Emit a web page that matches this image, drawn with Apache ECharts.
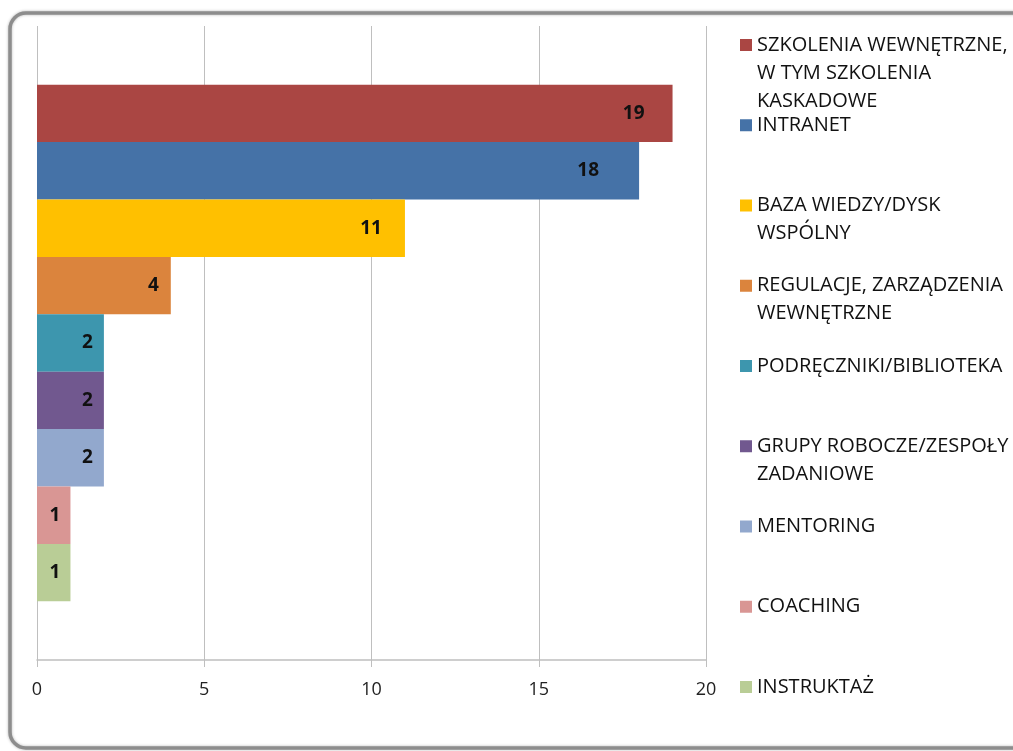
<!DOCTYPE html>
<html>
<head>
<meta charset="utf-8">
<script src="https://cdn.jsdelivr.net/npm/echarts@6/dist/echarts.min.js"></script>
<style>
html,body{margin:0;padding:0;background:#fff;}
#chart{width:1013px;height:751px;}
</style>
</head>
<body>
<div id="chart"></div>
<script>
// ---- data ----
const categories = [
  'SZKOLENIA WEWNĘTRZNE, W TYM SZKOLENIA KASKADOWE',
  'INTRANET',
  'BAZA WIEDZY/DYSK WSPÓLNY',
  'REGULACJE, ZARZĄDZENIA WEWNĘTRZNE',
  'PODRĘCZNIKI/BIBLIOTEKA',
  'GRUPY ROBOCZE/ZESPOŁY ZADANIOWE',
  'MENTORING',
  'COACHING',
  'INSTRUKTAŻ'
];
const values = [19, 18, 11, 4, 2, 2, 2, 1, 1];
const legendLabels = [
  'SZKOLENIA WEWNĘTRZNE,\nW TYM SZKOLENIA\nKASKADOWE',
  'INTRANET',
  'BAZA WIEDZY/DYSK\nWSPÓLNY',
  'REGULACJE, ZARZĄDZENIA\nWEWNĘTRZNE',
  'PODRĘCZNIKI/BIBLIOTEKA',
  'GRUPY ROBOCZE/ZESPOŁY\nZADANIOWE',
  'MENTORING',
  'COACHING',
  'INSTRUKTAŻ'
];
const xMin = 0, xMax = 20, xInterval = 5;

// ---- styles ----
const colors = ['#AA4643', '#4572A7', '#FFC000', '#DB843D', '#3D96AE', '#71588F', '#92A8CD', '#D99694', '#B9CD96'];
const labelInset = [28, 40, 23, 12, 11, 11, 11, 10, 10];
const FONT = 'Open Sans';
const LINE_H = 28;
const LEGEND_FIRST = 45, LEGEND_STEP = 80.25;

const chart = echarts.init(document.getElementById('chart'), null, {renderer: 'canvas'});

const legends = categories.map((name, i) => {
  const lines = legendLabels[i].split('\n');
  const n = lines.length;
  // leading blank lines so the first text line sits level with the icon
  const text = new Array(n - 1).fill(' ').concat(lines).join('\n');
  const c = LEGEND_FIRST + i * LEGEND_STEP;
  return {
    data: [name],
    left: 740,
    top: c - (2 * n - 1) * LINE_H / 2,
    padding: 0,
    icon: 'rect',
    itemWidth: 12,
    itemHeight: 12,
    selectedMode: false,
    formatter: () => text,
    textStyle: {
      fontFamily: FONT, fontSize: 20, color: '#111',
      lineHeight: LINE_H
    }
  };
});

const series = categories.map((name, i) => ({
  type: 'bar',
  name: name,
  data: [values[i]],
  barGap: '0%',
  barCategoryGap: '18.5%',
  itemStyle: {color: colors[i]},
  label: {
    show: true, position: 'insideRight', distance: labelInset[i],
    fontFamily: FONT, fontWeight: 'bold', fontSize: 19, color: '#111'
  }
}));

chart.setOption({
  animation: false,
  backgroundColor: '#fff',
  graphic: [{
    type: 'rect',
    shape: {x: 10, y: 13, width: 1020, height: 735, r: 16},
    style: {fill: 'none', stroke: '#8d8d8d', lineWidth: 3.5, shadowBlur: 3, shadowColor: 'rgba(0,0,0,0.3)'},
    z: -1
  }],
  grid: {left: 37, right: 307, top: 26, bottom: 91, containLabel: false},
  legend: legends,
  xAxis: {
    type: 'value', min: xMin, max: xMax, interval: xInterval,
    axisLine: {show: true, lineStyle: {color: '#BFBFBF', width: 1.5}},
    axisTick: {show: true, length: 7, lineStyle: {color: '#BFBFBF'}},
    axisLabel: {fontFamily: FONT, fontSize: 18, color: '#222', margin: 21},
    splitLine: {show: true, lineStyle: {color: '#BFBFBF', width: 1}}
  },
  yAxis: {
    type: 'category', data: [''],
    axisLine: {show: false}, axisTick: {show: false}, axisLabel: {show: false}
  },
  series: series
});
</script>
</body>
</html>
